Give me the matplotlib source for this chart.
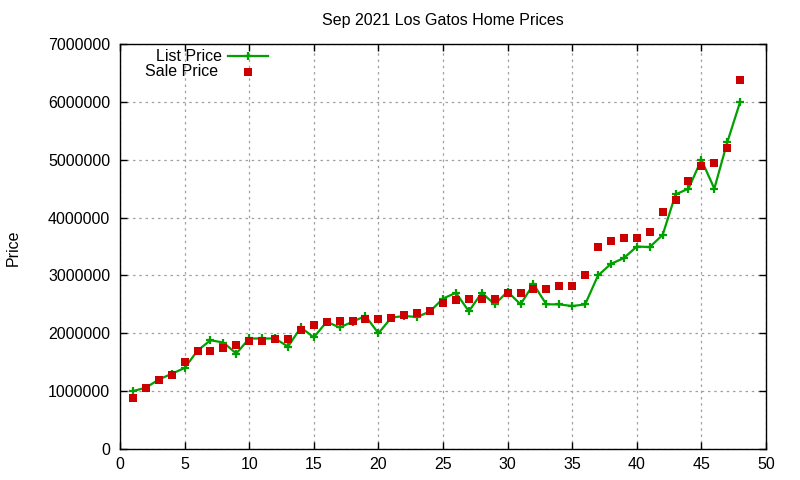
import matplotlib
matplotlib.use("Agg")
import matplotlib.pyplot as plt
from matplotlib.lines import Line2D
from matplotlib.ticker import MultipleLocator, FuncFormatter

plt.rcParams['font.family'] = ['Liberation Sans', 'DejaVu Sans']

idx = list(range(1, 49))
list_price = [1000000, 1060000, 1200000, 1300000, 1400000, 1700000, 1880000, 1840000, 1650000, 1910000,
              1910000, 1910000, 1770000, 2100000, 1930000, 2200000, 2100000, 2200000, 2300000, 2000000,
              2270000, 2300000, 2280000, 2380000, 2600000, 2700000, 2380000, 2700000, 2500000, 2720000,
              2500000, 2850000, 2500000, 2500000, 2470000, 2500000, 3000000, 3200000, 3300000, 3500000,
              3490000, 3700000, 4400000, 4500000, 5000000, 4500000, 5300000, 6000000]
sale_price = [890000, 1060000, 1200000, 1280000, 1500000, 1700000, 1700000, 1750000, 1800000, 1860000,
              1870000, 1900000, 1900000, 2060000, 2150000, 2200000, 2220000, 2220000, 2250000, 2250000,
              2270000, 2320000, 2350000, 2380000, 2530000, 2580000, 2600000, 2600000, 2600000, 2700000,
              2700000, 2760000, 2770000, 2820000, 2820000, 3000000, 3500000, 3600000, 3650000, 3650000,
              3750000, 4100000, 4300000, 4630000, 4900000, 4950000, 5200000, 6380000]
labels = ['List Price', 'Sale Price']

GREEN = '#00a000'
RED = '#cc0000'
FS = 11.5

fig = plt.figure(figsize=(8, 4.8), dpi=100)
ax = fig.add_axes([0.15, 0.0646, 0.8075, 0.8437])

ax.plot(idx, list_price, color=GREEN, linewidth=1.6, marker='+', markersize=6.3,
        markeredgewidth=1.6)
ax.plot(idx, sale_price, linestyle='none', marker='s', markersize=5.8, color=RED,
        markeredgewidth=0)

ax.set_xlim(0, 50)
ax.set_ylim(0, 7000000)
ax.xaxis.set_major_locator(MultipleLocator(5))
ax.yaxis.set_major_locator(MultipleLocator(1000000))
ax.yaxis.set_major_formatter(FuncFormatter(lambda v, p: f"{int(v)}"))
ax.tick_params(direction='in', top=True, right=True, labelsize=FS, length=5, width=1)
ax.tick_params(axis='y', pad=7)
ax.tick_params(axis='x', pad=5.5)
ax.grid(True, linestyle=(0, (2, 3)), color='#a0a0a0', linewidth=0.9)
for s in ax.spines.values():
    s.set_linewidth(1.0)

ax.set_title('Sep 2021 Los Gatos Home Prices', fontsize=FS, pad=14)
fig.text(0.016, 0.483, 'Price', rotation=90, va='center', ha='center', fontsize=FS)

# gnuplot-style key: right-aligned text, sample to the right
ax.text(0.158, 0.970, labels[0], transform=ax.transAxes, ha='right', va='center', fontsize=FS)
ax.text(0.152, 0.931, labels[1], transform=ax.transAxes, ha='right', va='center', fontsize=FS)
ax.add_line(Line2D([0.167, 0.229], [0.970, 0.970], transform=ax.transAxes, color=GREEN,
                   linewidth=1.6, clip_on=False))
ax.add_line(Line2D([0.198], [0.970], transform=ax.transAxes, color=GREEN, marker='+',
                   markersize=6.3, markeredgewidth=1.6, linestyle='none', clip_on=False))
ax.add_line(Line2D([0.198], [0.931], transform=ax.transAxes, color=RED, marker='s',
                   markersize=5.8, markeredgewidth=0, linestyle='none', clip_on=False))

fig.savefig('out.png', dpi=100)
